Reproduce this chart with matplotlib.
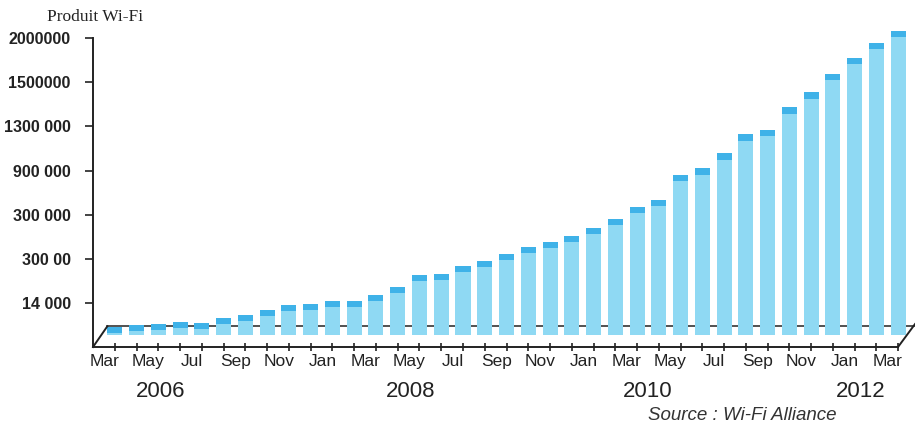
import numpy as np
import matplotlib
matplotlib.use('Agg')
import matplotlib.pyplot as plt
from matplotlib.transforms import ScaledTranslation

# Data (heights, in y-tick units: 1 unit = one gridline step)
months = ['Mar', 'May', 'Jul', 'Sep', 'Nov', 'Jan', 'Mar', 'May', 'Jul', 'Sep',
          'Nov', 'Jan', 'Mar', 'May', 'Jul', 'Sep', 'Nov', 'Jan', 'Mar']
years = ['2006', '2008', '2010', '2012']
year_pos = [2.1, 13.6, 24.5, 34.3]
y_tick_labels = ['14 000', '300 00', '300 000', '900 000', '1300 000', '1500000', '2000000']
values = [0.45, 0.50, 0.52, 0.57, 0.55, 0.66, 0.73, 0.84, 0.95, 0.98,
          1.05, 1.05, 1.18, 1.36, 1.64, 1.66, 1.84, 1.95, 2.11, 2.27,
          2.39, 2.52, 2.70, 2.91, 3.18, 3.34, 3.91, 4.05, 4.39, 4.82,
          4.93, 5.43, 5.77, 6.20, 6.55, 6.89, 7.16]

body_color = '#8fd9f3'
cap_color = '#3fb2e8'
text_color = '#222222'
base = 0.27      # bar foot (set back from the front axis)
cap = 0.14       # height of the darker top cap
floor = 0.47     # back baseline of the pseudo 3D floor

W, H = 915, 428
fig = plt.figure(figsize=(W / 100, H / 100), dpi=100)
ax = fig.add_axes([93 / W, 1 - 347 / H, 822 / W, 322 / H])
ax.set_xlim(-1.01, 36.78)
ax.set_ylim(0, 7.3)

x = np.arange(len(values))
vals = np.array(values)
ax.bar(x, vals - cap - base, bottom=base, width=0.69, color=body_color, zorder=2)
ax.bar(x, np.full(len(vals), cap), bottom=vals - cap, width=0.69, color=cap_color, zorder=3)

# floor lines: back baseline and the two diagonals
ax.plot([-0.35, 36.78], [floor, floor], color='#333333', lw=1.2, zorder=1, clip_on=False)
ax.plot([-1.01, -0.35], [0, floor], color='#222222', lw=1.4, zorder=4, clip_on=False)
ax.plot([x[-1], 36.78], [0, floor + 0.05], color='#222222', lw=1.4, zorder=4, clip_on=False)

# spines
for s in ['top', 'right']:
    ax.spines[s].set_visible(False)
ax.spines['left'].set_bounds(0, 7)
ax.spines['bottom'].set_bounds(-1.01, x[-1])
ax.spines['left'].set_color('#222222')
ax.spines['bottom'].set_color('#222222')
ax.spines['left'].set_linewidth(1.4)
ax.spines['bottom'].set_linewidth(1.4)

# y ticks
ax.set_yticks(np.arange(1, 8))
ax.set_yticklabels(y_tick_labels, fontsize=11.5, fontweight='bold', color=text_color,
                   family='Liberation Sans')
ax.tick_params(axis='y', direction='out', length=6, width=1.2, pad=10, color='#222222')

# x ticks: one per bar, label every second one
ax.set_xticks(x)
xlabels = []
for i in range(len(x)):
    xlabels.append(months[i // 2] if i % 2 == 0 else '')
ax.set_xticklabels(xlabels, fontsize=12.5, color=text_color, family='Liberation Sans')
ax.tick_params(axis='x', direction='inout', length=6, width=1.2, pad=2, color='#222222')
offset = ScaledTranslation(-10 / 100, 0, fig.dpi_scale_trans)
for lab in ax.get_xticklabels():
    lab.set_transform(lab.get_transform() + offset)

# year labels
for yr, p in zip(years, year_pos):
    ax.text(p, -0.137, yr, transform=ax.get_xaxis_transform(), ha='center', va='center',
            fontsize=16, color=text_color, family='Liberation Sans')

fig.text(47 / W, 1 - 17 / H, 'Produit Wi-Fi', fontsize=12.5, family='Liberation Serif',
         color=text_color, ha='left', va='center')
fig.text(742 / W, 1 - 416 / H, 'Source : Wi-Fi Alliance', fontsize=13.5, style='italic',
         family='Liberation Sans', color='#333333', ha='center', va='center')

fig.savefig('out.png', dpi=100)
